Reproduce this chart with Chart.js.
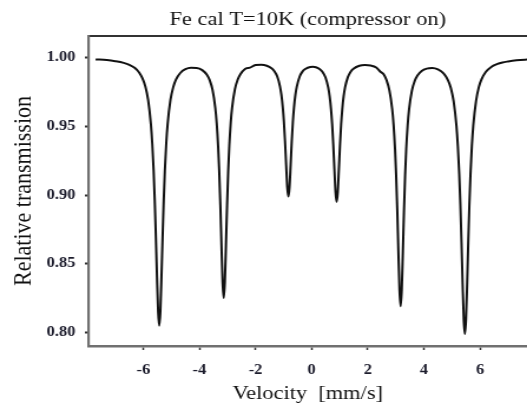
<!DOCTYPE html>
<html>
<head>
<meta charset="utf-8">
<title>Fe cal T=10K (compressor on)</title>
<script src="https://cdn.jsdelivr.net/npm/chart.js@4.4.0/dist/chart.umd.min.js"></script>
<style>
    html, body { margin: 0; padding: 0; background: #fff; overflow: hidden; }
    /* the source picture is a little wider than tall, so the whole chart is stretched */
    #wrap { width: 447px; height: 407px; transform: scaleX(1.179); transform-origin: 0 0; }
</style>
</head>
<body>
<div id="wrap"><canvas id="chart" width="447" height="407"></canvas></div>
<script>
/** DATA */
const velocity = [
    -7.7, -7.3, -7.0, -6.7, -6.5, -6.3, -6.15, -6.03, -5.93, -5.83, -5.73, -5.68,
    -5.633, -5.593, -5.553, -5.513, -5.473, -5.433, -5.393, -5.353, -5.313, -5.273,
    -5.233, -5.183, -5.133, -5.033, -4.933, -4.833, -4.683, -4.5, -4.3, -4.1, -3.9,
    -3.735, -3.635, -3.535, -3.435, -3.385, -3.335, -3.295, -3.255, -3.215, -3.175,
    -3.135, -3.095, -3.055, -3.015, -2.975, -2.935, -2.885, -2.835, -2.735, -2.635,
    -2.535, -2.385, -2.2, -2.0, -1.8, -1.6, -1.43, -1.33, -1.23, -1.13, -1.08, -1.03,
    -0.99, -0.95, -0.91, -0.87, -0.83, -0.79, -0.75, -0.71, -0.67, -0.63, -0.58, -0.53,
    -0.43, -0.33, -0.23, -0.05, 0.05, 0.15, 0.29, 0.39, 0.49, 0.59, 0.64, 0.69, 0.73,
    0.77, 0.81, 0.85, 0.89, 0.93, 0.97, 1.01, 1.05, 1.09, 1.14, 1.19, 1.29, 1.39, 1.49,
    1.7, 1.9, 2.1, 2.3, 2.45, 2.57, 2.67, 2.77, 2.87, 2.92, 2.97, 3.01, 3.05, 3.09, 3.13,
    3.17, 3.21, 3.25, 3.29, 3.33, 3.37, 3.42, 3.47, 3.57, 3.67, 3.77, 3.92, 4.1, 4.3,
    4.5, 4.7, 4.86, 4.96, 5.06, 5.16, 5.21, 5.26, 5.30, 5.34, 5.38, 5.42, 5.46, 5.50,
    5.54, 5.58, 5.62, 5.66, 5.71, 5.76, 5.86, 5.96, 6.06, 6.21, 6.4, 6.6, 6.8, 7.0,
    7.3, 7.6, 7.9
];
const transmission = [
    0.9986, 0.9981, 0.9973, 0.9961, 0.9947, 0.9923, 0.9891, 0.9848, 0.9791, 0.9693, 0.9514, 0.9369,
    0.9179, 0.8964, 0.8697, 0.8404, 0.8154, 0.8051, 0.8153, 0.8403, 0.8696, 0.8962,
    0.9176, 0.9377, 0.9517, 0.9691, 0.9785, 0.9841, 0.9887, 0.9915, 0.9925, 0.9924, 0.9908,
    0.9874, 0.9835, 0.9766, 0.9634, 0.9523, 0.9358, 0.9173, 0.8927, 0.8635, 0.8367,
    0.8252, 0.8367, 0.8635, 0.8927, 0.9174, 0.9360, 0.9525, 0.9637, 0.9770, 0.9840,
    0.9880, 0.9915, 0.9926, 0.9945, 0.9947, 0.9940, 0.9921, 0.9900, 0.9863, 0.9790, 0.9730, 0.9638,
    0.9533, 0.9391, 0.9220, 0.9059, 0.8989, 0.9058, 0.9219, 0.9390, 0.9532, 0.9636, 0.9728, 0.9788,
    0.9860, 0.9897, 0.9916, 0.9931, 0.9932, 0.9929, 0.9915, 0.9894, 0.9856, 0.9782, 0.9718, 0.9623, 0.9514,
    0.9367, 0.9189, 0.9022, 0.8949, 0.9022, 0.9189, 0.9367, 0.9514, 0.9623, 0.9719, 0.9783, 0.9857, 0.9897, 0.9918,
    0.9940, 0.9945, 0.9941, 0.9927, 0.9896, 0.9877, 0.9834, 0.9761, 0.9624, 0.9508, 0.9338, 0.9145, 0.8890, 0.8588, 0.8311,
    0.8192, 0.8310, 0.8587, 0.8889, 0.9144, 0.9336, 0.9506, 0.9621, 0.9757, 0.9828, 0.9869, 0.9902, 0.9919, 0.9923,
    0.9913, 0.9884, 0.9834, 0.9778, 0.9680, 0.9501, 0.9355, 0.9149, 0.8927, 0.8654, 0.8352, 0.8095, 0.7990, 0.8095,
    0.8353, 0.8655, 0.8930, 0.9152, 0.9359, 0.9506, 0.9686, 0.9786, 0.9844, 0.9896, 0.9931, 0.9951, 0.9964, 0.9971,
    0.9979, 0.9984, 0.9987
];
const xTicks = [-6, -4, -2, 0, 2, 4, 6];
const yTicks = [0.80, 0.85, 0.90, 0.95, 1.00];

const chartTitle = 'Fe cal T=10K (compressor on)';
const xLabel = 'Velocity  [mm/s]';
const yLabel = 'Relative transmission';

const serif = "'Liberation Serif', 'Times New Roman', serif";

/** CHART */
function makeChart(canvas) {
    const points = velocity.map((v, i) => ({ x: v, y: transmission[i] }));

    const config = {
        type: 'line',
        data: {
            datasets: [{
                data: points,
                borderColor: '#111',
                borderWidth: 2,
                pointRadius: 0,
                fill: false,
                cubicInterpolationMode: 'monotone'
            }]
        },
        options: {
            responsive: false,
            animation: false,
            layout: { padding: 0 },
            plugins: {
                legend: { display: false },
                tooltip: { enabled: false },
                title: {
                    display: true,
                    text: chartTitle,
                    fullSize: false,
                    color: '#111',
                    font: { family: serif, size: 19, weight: 'normal' },
                    padding: { top: 8.9, bottom: 4.3 }
                }
            },
            scales: {
                x: {
                    type: 'linear',
                    position: 'bottom',
                    min: -7.956,
                    max: 7.675,
                    afterBuildTicks: (scale) => { scale.ticks = xTicks.map(v => ({ value: v })); },
                    afterFit: (scale) => { scale.height = 61; },
                    grid: { drawOnChartArea: false, drawTicks: true, tickLength: 4, tickWidth: 1.5, tickColor: '#333' },
                    border: { display: true, color: '#707070', width: 2.5 },
                    ticks: {
                        padding: 11.6,
                        maxRotation: 0,
                        color: '#1c1c2c',
                        font: { family: serif, size: 14, weight: 'bold' },
                        callback: (v) => String(v)
                    },
                    title: {
                        display: true,
                        text: xLabel,
                        color: '#111',
                        font: { family: serif, size: 19, weight: 'normal' },
                        padding: { top: 4.7, bottom: 1.1 }
                    }
                },
                x2: {
                    type: 'linear',
                    position: 'top',
                    display: true,
                    grid: { display: false, drawTicks: false },
                    ticks: { display: false },
                    border: { display: true, color: '#333', width: 2 }
                },
                y: {
                    type: 'linear',
                    min: 0.7903,
                    max: 1.0156,
                    afterBuildTicks: (scale) => { scale.ticks = yTicks.map(v => ({ value: v })); },
                    afterFit: (scale) => { scale.width = 75; },
                    grid: { drawOnChartArea: false, drawTicks: true, tickLength: 3, tickWidth: 2, tickColor: '#333' },
                    border: { display: true, color: '#707070', width: 2.2 },
                    ticks: {
                        padding: 8,
                        color: '#1c1c2c',
                        font: { family: serif, size: 14, weight: 'bold' },
                        callback: (v) => Number(v).toFixed(2)
                    },
                    title: {
                        display: true,
                        text: yLabel,
                        color: '#111',
                        font: { family: serif, size: 22, weight: 'normal' },
                        padding: { top: 7.3, bottom: 0 }
                    }
                }
            }
        }
    };

    return new Chart(canvas.getContext('2d'), config);
}

makeChart(document.getElementById('chart'));
</script>
</body>
</html>
